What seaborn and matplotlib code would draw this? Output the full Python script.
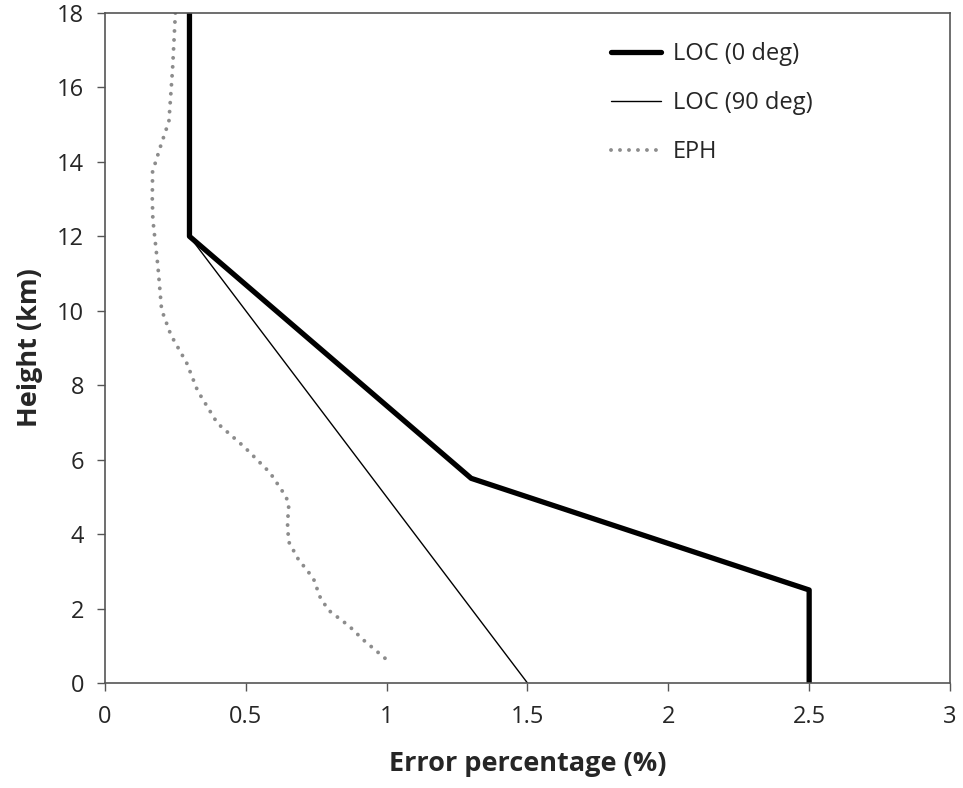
import matplotlib
matplotlib.use("Agg")
import matplotlib.pyplot as plt
import seaborn as sns
import pandas as pd

# LOC profiles (error %, height km)
loc0_err = [0.3, 0.3, 1.3, 2.5, 2.5]
loc0_h = [18, 12, 5.5, 2.5, 0]
loc90_err = [0.3, 0.3, 1.5]
loc90_h = [18, 12, 0]

# EPH profile
eph_err = [0.25, 0.24, 0.227, 0.199, 0.169, 0.168, 0.17, 0.188, 0.201, 0.234,
           0.29, 0.329, 0.399, 0.495, 0.586, 0.639, 0.653, 0.648, 0.652,
           0.686, 0.74, 0.763, 0.793, 0.867, 0.917, 1.006]
eph_h = [18, 16.5, 15.09, 14.46, 13.74, 13.0, 12.45, 11.19, 10.03, 9.35,
         8.6, 7.85, 6.98, 6.34, 5.65, 5.05, 4.83, 4.29, 3.80,
         3.33, 2.81, 2.32, 1.96, 1.53, 1.16, 0.59]

sns.set_theme(style="white")
plt.rcParams["font.family"] = ["Open Sans", "DejaVu Sans"]

fig = plt.figure(figsize=(9.63, 7.88), dpi=100)
ax = fig.add_axes([0.109, 0.1332, 0.8775, 0.8503])

df0 = pd.DataFrame({"err": loc0_err, "h": loc0_h})
df90 = pd.DataFrame({"err": loc90_err, "h": loc90_h})
dfe = pd.DataFrame({"err": eph_err, "h": eph_h})

sns.lineplot(data=df0, x="err", y="h", sort=False, estimator=None, ax=ax,
             color="black", linewidth=3.8, label="LOC (0 deg)")
sns.lineplot(data=df90, x="err", y="h", sort=False, estimator=None, ax=ax,
             color="black", linewidth=1.0, label="LOC (90 deg)")
sns.lineplot(data=dfe, x="err", y="h", sort=False, estimator=None, ax=ax,
             color="#8c8c8c", linewidth=2.8, linestyle=(0, (0.01, 2.3)),
             dash_capstyle="round", label="EPH")

ax.set_xlim(0, 3)
ax.set_ylim(0, 18)
ax.set_xticks([0, 0.5, 1, 1.5, 2, 2.5, 3])
ax.set_xticklabels(["0", "0.5", "1", "1.5", "2", "2.5", "3"])
ax.set_yticks(range(0, 19, 2))
ax.tick_params(axis="both", labelsize=17, direction="out", length=6,
               width=1, color="#555555", left=True, bottom=True)
ax.tick_params(axis="x", pad=10)
ax.tick_params(axis="y", pad=9)
for s in ax.spines.values():
    s.set_color("#555555")
    s.set_linewidth(1.2)

ax.set_xlabel("Error percentage (%)", fontsize=19.5, fontweight="bold", labelpad=16)
ax.set_ylabel("Height (km)", fontsize=19.5, fontweight="bold", labelpad=10)

leg = ax.legend(loc="upper left", bbox_to_anchor=(0.574, 0.988), frameon=False,
                fontsize=17, handlelength=2.1, labelspacing=1.05, handletextpad=0.5)

fig.savefig("out.png", dpi=100)
